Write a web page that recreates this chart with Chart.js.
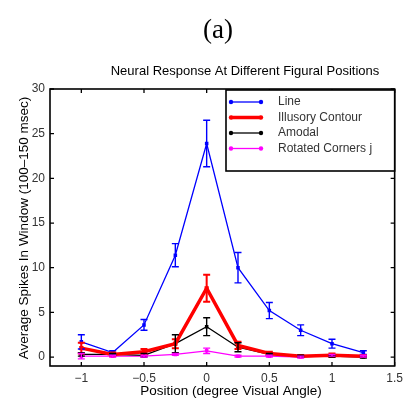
<!DOCTYPE html>
<html>
<head>
<meta charset="utf-8">
<script src="https://cdn.jsdelivr.net/npm/chart.js@4.4.0/dist/chart.umd.min.js"></script>
<style>
  html, body { margin: 0; padding: 0; background: #fff; }
  #wrap { width: 408px; height: 401px; }
</style>
</head>
<body>
<div id="wrap"><canvas id="chart" width="408" height="401"></canvas></div>
<script>
const positions = [-1, -0.75, -0.5, -0.25, 0, 0.25, 0.5, 0.75, 1, 1.25];
const seriesNames = ['Line', 'Illusory Contour', 'Amodal', 'Rotated Corners j'];
const lineVals     = [1.7, 0.5, 3.6, 11.4, 23.9, 10.0, 5.2, 3.0, 1.5, 0.5];
const lineErr      = [0.8, 0.2, 0.6, 1.3, 2.6, 1.7, 0.9, 0.6, 0.5, 0.2];
const illusoryVals = [1.0, 0.3, 0.6, 1.5, 7.7, 1.3, 0.4, 0.1, 0.2, 0.1];
const illusoryErr  = [0.6, 0.2, 0.3, 0.5, 1.5, 0.4, 0.2, 0.1, 0.2, 0.1];
const amodalVals   = [0.3, 0.3, 0.2, 1.5, 3.4, 1.1, 0.3, 0.1, 0.1, 0.0];
const amodalErr    = [0.2, 0.1, 0.2, 1.0, 1.0, 0.5, 0.1, 0.1, 0.1, 0.1];
const rotatedVals  = [0.1, 0.1, 0.1, 0.3, 0.7, 0.1, 0.1, 0.0, 0.2, 0.1];
const rotatedErr   = [0.3, 0.1, 0.1, 0.1, 0.3, 0.1, 0.1, 0.1, 0.1, 0.1];
const xTicks = [-1, -0.5, 0, 0.5, 1, 1.5];
const yTicks = [0, 5, 10, 15, 20, 25, 30];

const colors = ['#0000ff', '#ff0000', '#000000', '#ff00ff'];
const widths = [1.3, 3.5, 1.3, 1.3];
const allVals = [lineVals, illusoryVals, amodalVals, rotatedVals];
const allErr = [lineErr, illusoryErr, amodalErr, rotatedErr];

const font = 'Liberation Sans, Arial, sans-serif';

function pts(vals) {
  return positions.map((p, i) => ({ x: p, y: vals[i] }));
}

const datasets = allVals.map((v, i) => ({
  label: seriesNames[i],
  data: pts(v),
  borderColor: colors[i],
  backgroundColor: colors[i],
  borderWidth: widths[i],
  pointStyle: 'rect',
  pointRadius: i == 1 ? 3 : 2.5,
  pointBorderWidth: 0,
  tension: 0,
  errors: allErr[i]
}));

// error bars, drawn through the scales
const errorBars = {
  id: 'errorBars',
  afterDatasetsDraw(chart) {
    const ctx = chart.ctx;
    const xs = chart.scales.x, ys = chart.scales.y;
    chart.data.datasets.forEach((ds, i) => {
      ctx.save();
      ctx.strokeStyle = ds.borderColor;
      ctx.lineWidth = i == 1 ? 2 : 1.4;
      ds.data.forEach((p, j) => {
        const e = ds.errors[j];
        const px = xs.getPixelForValue(p.x);
        const top = ys.getPixelForValue(p.y + e);
        const bot = ys.getPixelForValue(p.y - e);
        ctx.beginPath();
        ctx.moveTo(px, top); ctx.lineTo(px, bot);
        ctx.moveTo(px - 3.5, top); ctx.lineTo(px + 3.5, top);
        ctx.moveTo(px - 3.5, bot); ctx.lineTo(px + 3.5, bot);
        ctx.stroke();
      });
      ctx.restore();
    });
  }
};

// box, inward ticks, titles, legend
const frame = {
  id: 'frame',
  afterDraw(chart) {
    const ctx = chart.ctx;
    const a = chart.chartArea;
    const xs = chart.scales.x, ys = chart.scales.y;
    ctx.save();
    ctx.strokeStyle = '#000';
    ctx.lineWidth = 1.6;
    ctx.strokeRect(a.left, a.top, a.right - a.left, a.bottom - a.top);
    ctx.lineWidth = 1.3;
    ctx.beginPath();
    xTicks.forEach(t => {
      const px = xs.getPixelForValue(t);
      ctx.moveTo(px, a.bottom); ctx.lineTo(px, a.bottom - 4);
      ctx.moveTo(px, a.top); ctx.lineTo(px, a.top + 4);
    });
    yTicks.forEach(t => {
      const py = ys.getPixelForValue(t);
      ctx.moveTo(a.left, py); ctx.lineTo(a.left + 4, py);
      ctx.moveTo(a.right, py); ctx.lineTo(a.right - 4, py);
    });
    ctx.stroke();

    ctx.fillStyle = '#000';
    ctx.textAlign = 'center';
    ctx.textBaseline = 'middle';
    ctx.font = '27px "Liberation Serif", "Times New Roman", serif';
    ctx.fillText('(a)', 218, 31);
    ctx.font = '13px ' + font;
    ctx.fillText('Neural Response At Different Figural Positions', 245, 71);
    ctx.font = '13.5px ' + font;
    ctx.fillText('Position (degree Visual Angle)', 231, 391);
    ctx.save();
    ctx.translate(24, 228);
    ctx.rotate(-Math.PI / 2);
    ctx.fillText('Average Spikes In Window (100\u2013150 msec)', 0, 0);
    ctx.restore();

    // legend
    const lx = 226, ly = 90, lw = a.right - 226, lh = 81;
    ctx.fillStyle = '#fff';
    ctx.fillRect(lx, ly, lw, lh);
    ctx.lineWidth = 1.6;
    ctx.strokeStyle = '#000';
    ctx.strokeRect(lx, ly, lw, lh);
    ctx.textAlign = 'left';
    ctx.font = '12px ' + font;
    chart.data.datasets.forEach((ds, i) => {
      const yy = 102 + i * 15.5;
      ctx.strokeStyle = ds.borderColor;
      ctx.fillStyle = ds.borderColor;
      ctx.lineWidth = ds.borderWidth;
      ctx.beginPath();
      ctx.moveTo(231, yy); ctx.lineTo(261, yy);
      ctx.stroke();
      [231, 261].forEach(mx => {
        ctx.beginPath();
        ctx.arc(mx, yy, 2.2, 0, Math.PI * 2);
        ctx.fill();
      });
      ctx.fillStyle = '#333';
      ctx.fillText(ds.label, 278, yy);
    });
    ctx.restore();
  }
};

new Chart(document.getElementById('chart'), {
  type: 'line',
  data: { datasets },
  options: {
    responsive: false,
    animation: false,
    layout: { padding: { top: 89, right: 6, left: 0, bottom: 0 } },
    plugins: { legend: { display: false }, title: { display: false }, tooltip: { enabled: false } },
    scales: {
      x: {
        type: 'linear',
        min: -1.25,
        max: 1.5,
        afterBuildTicks: s => { s.ticks = xTicks.map(v => ({ value: v })); },
        afterFit: s => { s.height = 35; },
        grid: { display: false, drawTicks: false },
        border: { display: false },
        ticks: {
          padding: 5,
          color: '#333',
          font: { family: font, size: 12 },
          maxRotation: 0,
          callback: v => v == 0 ? '0' : String(v).replace('-', '\u2212')
        }
      },
      y: {
        type: 'linear',
        min: -1,
        max: 30,
        afterBuildTicks: s => { s.ticks = yTicks.map(v => ({ value: v })); },
        afterFit: s => { s.width = 50; },
        grid: { display: false, drawTicks: false },
        border: { display: false },
        ticks: { padding: 5, color: '#333', font: { family: font, size: 12 } }
      }
    }
  },
  plugins: [errorBars, frame]
});
</script>
</body>
</html>
